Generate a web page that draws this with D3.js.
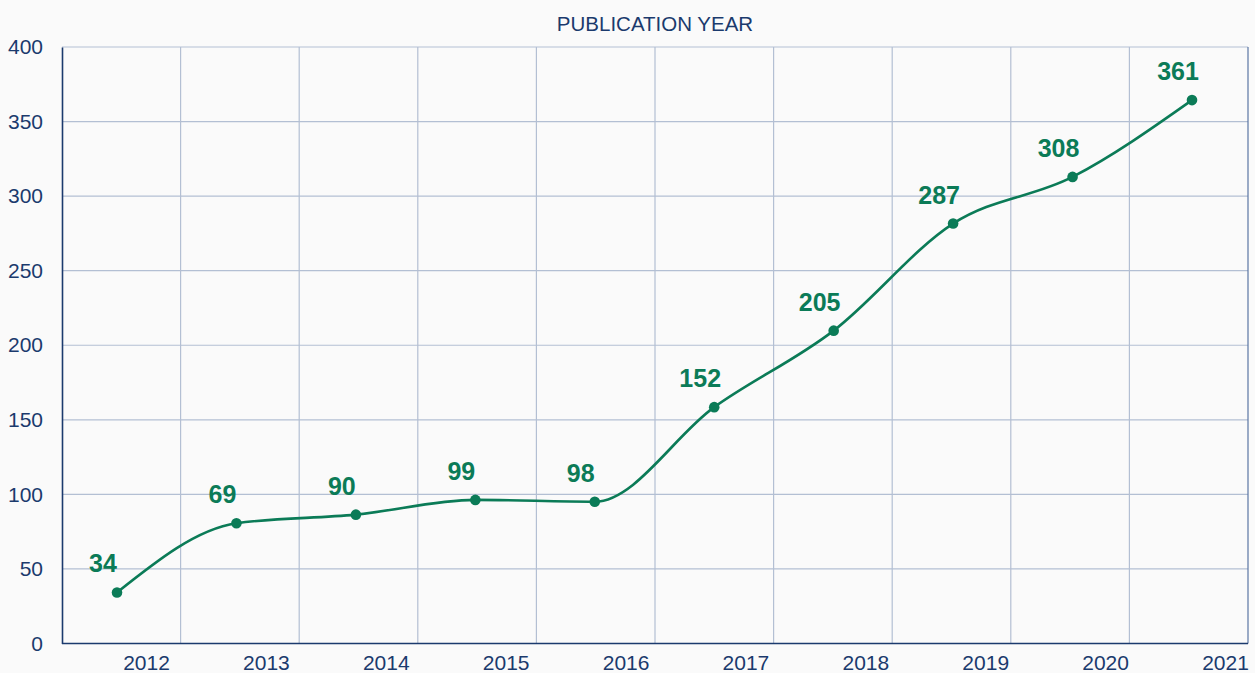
<!DOCTYPE html>
<html>
<head>
<meta charset="utf-8">
<script src="https://cdn.jsdelivr.net/npm/d3@7"></script>
<style>
  body { margin: 0; background: #fafafa; }
  svg { display: block; font-family: "Liberation Sans", Arial, sans-serif; }
</style>
</head>
<body>
<script>
const years = ["2012", "2013", "2014", "2015", "2016", "2017", "2018", "2019", "2020", "2021"];
// where the markers sit on the value axis
const values = [34.2, 80.6, 86.4, 96.3, 95.1, 158.5, 209.8, 281.6, 312.9, 364.4];
// numbers printed above the markers
const labels = ["34", "69", "90", "99", "98", "152", "205", "287", "308", "361"];
const yTicks = [0, 50, 100, 150, 200, 250, 300, 350, 400];

const width = 1255;
const height = 673;
const margin = { top: 47, right: 7, bottom: 30, left: 62 };

const navy = "#1b3a6d";
const green = "#0b7b57";
const grid = "#b3bfd3";

const svg = d3.select("body").append("svg")
    .attr("width", width)
    .attr("height", height);

const yScale = d3.scaleLinear()
    .domain([0, 400])
    .range([height - margin.bottom + 0.5, margin.top]);

// grid cells
const gridScale = d3.scaleBand()
    .domain(years)
    .range([margin.left, width - margin.right]);

// markers
const xScale = d3.scalePoint()
    .domain(years)
    .range([117, 1192]);

// year labels
const labelScale = d3.scalePoint()
    .domain(years)
    .range([146, 1225]);

// horizontal grid
svg.append("g")
    .selectAll("line")
    .data(yTicks.filter(d => d > 0))
    .join("line")
    .attr("x1", margin.left)
    .attr("x2", width - margin.right)
    .attr("y1", d => yScale(d))
    .attr("y2", d => yScale(d))
    .attr("stroke", grid)
    .attr("stroke-width", 1.2);

// vertical grid
svg.append("g")
    .selectAll("line")
    .data(years.slice(1))
    .join("line")
    .attr("x1", d => gridScale(d))
    .attr("x2", d => gridScale(d))
    .attr("y1", margin.top)
    .attr("y2", yScale(0))
    .attr("stroke", grid)
    .attr("stroke-width", 1.2);

// right border
svg.append("line")
    .attr("x1", width - margin.right)
    .attr("x2", width - margin.right)
    .attr("y1", margin.top)
    .attr("y2", yScale(0))
    .attr("stroke", "#5a76a3")
    .attr("stroke-width", 1.2);

// y axis
const yAxis = d3.axisLeft(yScale)
    .tickValues(yTicks)
    .tickSize(0)
    .tickPadding(19);

svg.append("g")
    .attr("transform", `translate(${margin.left},0)`)
    .call(yAxis)
    .call(g => g.select(".domain").attr("stroke", navy).attr("stroke-width", 1.6))
    .call(g => g.selectAll("text")
        .attr("fill", navy)
        .style("font-size", "21px")
        .style("font-family", "'Liberation Sans', Arial, sans-serif"));

// x axis line
svg.append("line")
    .attr("x1", margin.left)
    .attr("x2", width - margin.right)
    .attr("y1", yScale(0))
    .attr("y2", yScale(0))
    .attr("stroke", navy)
    .attr("stroke-width", 1.6);

// x labels
const xAxis = d3.axisBottom(labelScale)
    .tickSize(0)
    .tickPadding(12);

svg.append("g")
    .attr("transform", `translate(0,${yScale(0)})`)
    .call(xAxis)
    .call(g => g.select(".domain").remove())
    .call(g => g.selectAll("text")
        .attr("fill", navy)
        .style("font-size", "21px")
        .style("font-family", "'Liberation Sans', Arial, sans-serif"));

// title
svg.append("text")
    .attr("x", (margin.left + width - margin.right) / 2)
    .attr("y", 31)
    .attr("text-anchor", "middle")
    .attr("fill", navy)
    .style("font-size", "20.5px")
    .text("PUBLICATION YEAR");

const points = years.map((year, i) => ({ year, value: values[i], label: labels[i] }));

const line = d3.line()
    .x(d => xScale(d.year))
    .y(d => yScale(d.value))
    .curve(d3.curveMonotoneX);

svg.append("path")
    .datum(points)
    .attr("d", line)
    .attr("fill", "none")
    .attr("stroke", green)
    .attr("stroke-width", 2.6);

svg.append("g")
    .selectAll("circle")
    .data(points)
    .join("circle")
    .attr("cx", d => xScale(d.year))
    .attr("cy", d => yScale(d.value))
    .attr("r", 5.3)
    .attr("fill", green);

svg.append("g")
    .selectAll("text")
    .data(points)
    .join("text")
    .attr("x", d => xScale(d.year) - 14)
    .attr("y", d => yScale(d.value) - 20)
    .attr("text-anchor", "middle")
    .attr("fill", green)
    .style("font-size", "25px")
    .style("font-weight", "bold")
    .text(d => d.label);
</script>
</body>
</html>
